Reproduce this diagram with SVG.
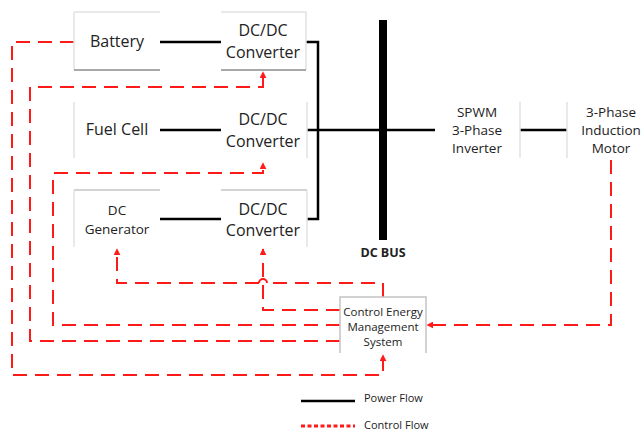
<svg xmlns="http://www.w3.org/2000/svg" width="644" height="432" viewBox="0 0 644 432">
  <defs>
    <style>
      .lbl { font-family: "Open Sans", "Liberation Sans", sans-serif; fill: #222; text-anchor: middle; }
      .big { font-size: 16px; }
      .mid { font-size: 13.5px; }
      .sm { font-size: 11.5px; }
      .bus-lbl { font-size: 12.5px; font-weight: bold; }
      .leg { font-family: "Open Sans", "Liberation Sans", sans-serif; font-size: 11px; fill: #222; }
      .faint { stroke: #e2e2e2; stroke-width: 1.5; fill: none; }
      .edge { stroke: #a8a8a8; stroke-width: 2; fill: none; }
      .soft { stroke: #c4c4c4; stroke-width: 1.5; fill: none; }
      .power { stroke: #000; stroke-width: 2.5; fill: none; }
      .ctrl { stroke: #ff1a1a; stroke-width: 2; fill: none; stroke-dasharray: 14 8; }
      .hop { stroke: #ff1a1a; stroke-width: 2; fill: none; }
    </style>
    <marker id="arrow" viewBox="0 0 10 10" refX="9" refY="5" markerWidth="7" markerHeight="7" markerUnits="userSpaceOnUse" orient="auto">
      <path d="M0,0 L10,5 L0,10 Z" fill="#ff1a1a"/>
    </marker>
  </defs>

  <!-- power and control connectors -->
  <g id="connectors">
    <!-- power flow -->
    <path class="power" d="M160,42 H221"/>
    <path class="power" d="M160,130 H221"/>
    <path class="power" d="M160,219 H221"/>
    <path class="power" d="M306,42 H318 V219 H307"/>
    <path class="power" d="M307,130 H435"/>
    <path class="power" d="M520,130 H567"/>

    <!-- control flow -->
    <path class="ctrl" d="M383,297 V283 H267"/>
    <path class="hop" d="M267,283 A4,4 0 0 0 259,283"/>
    <path class="ctrl" d="M259,283 H117 V249" marker-end="url(#arrow)"/>
    <path class="ctrl" d="M340,310 H263 V249" marker-end="url(#arrow)"/>
    <path class="ctrl" d="M340,325 H53 V173 H263 V163" marker-end="url(#arrow)"/>
    <path class="ctrl" d="M340,341 H30 V87 H263 V72" marker-end="url(#arrow)"/>
    <path class="ctrl" d="M74,42 H12 V375 H383 V355" marker-end="url(#arrow)"/>
    <path class="ctrl" d="M611,160 V325 H427" marker-end="url(#arrow)"/>
  </g>

  <g id="battery">
    <path class="faint" d="M74,12 H160 M74,12 V70"/>
    <path class="edge" d="M74,70 H160"/>
    <text class="lbl big" x="117" y="47">Battery</text>
  </g>

  <g id="converter-1">
    <path class="faint" d="M221,12 H306 V70"/>
    <path class="edge" d="M221,70 H306"/>
    <text class="lbl big" x="263" y="35.5">DC/DC</text>
    <text class="lbl big" x="263" y="57.5">Converter</text>
  </g>

  <g id="fuel-cell">
    <path class="faint" d="M74,102 V158"/>
    <text class="lbl big" x="117" y="135">Fuel Cell</text>
  </g>

  <g id="converter-2">
    <path class="faint" d="M307,102 V158"/>
    <text class="lbl big" x="263" y="125">DC/DC</text>
    <text class="lbl big" x="263" y="147">Converter</text>
  </g>

  <g id="dc-generator">
    <path class="soft" d="M74,190 H160"/>
    <path class="faint" d="M74,190 V247"/>
    <text class="lbl mid" x="117" y="215">DC</text>
    <text class="lbl mid" x="117" y="234">Generator</text>
  </g>

  <g id="converter-3">
    <path class="soft" d="M221,190 H307"/>
    <path class="faint" d="M307,190 V247"/>
    <text class="lbl big" x="263" y="215">DC/DC</text>
    <text class="lbl big" x="263" y="236">Converter</text>
  </g>

  <g id="dc-bus">
    <rect x="379" y="20" width="8" height="220" fill="#000"/>
    <text class="lbl bus-lbl" x="383" y="257">DC BUS</text>
  </g>

  <g id="inverter">
    <path class="faint" d="M520,102 V158"/>
    <text class="lbl mid" x="477" y="117">SPWM</text>
    <text class="lbl mid" x="477" y="135">3-Phase</text>
    <text class="lbl mid" x="477" y="153">Inverter</text>
  </g>

  <g id="motor">
    <path class="faint" d="M567,102 V158"/>
    <text class="lbl mid" x="611" y="117">3-Phase</text>
    <text class="lbl mid" x="611" y="135">Induction</text>
    <text class="lbl mid" x="611" y="153">Motor</text>
  </g>

  <g id="cems">
    <path class="soft" d="M340,353 V297 H426 V353"/>
    <text class="lbl sm" x="383" y="316">Control Energy</text>
    <text class="lbl sm" x="383" y="331">Management</text>
    <text class="lbl sm" x="383" y="346">System</text>
  </g>

  <g id="legend">
    <path d="M301,401 H355" stroke="#000" stroke-width="2.5"/>
    <text class="leg" x="364" y="402">Power Flow</text>
    <path d="M301,426 H355" stroke="#ff1a1a" stroke-width="3" stroke-dasharray="4 2.5"/>
    <text class="leg" x="364" y="429">Control Flow</text>
  </g>
</svg>
